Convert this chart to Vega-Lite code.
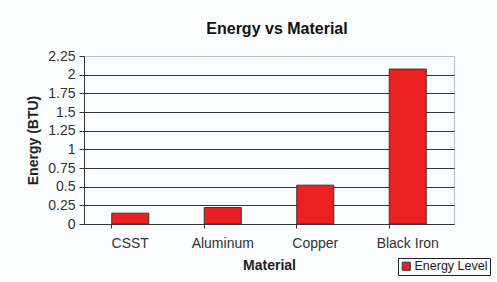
{
  "$schema": "https://vega.github.io/schema/vega-lite/v6.json",
  "width": 370,
  "height": 168,
  "padding": {"left": 26, "top": 21, "right": 5, "bottom": 5},
  "background": "#fbfcfe",
  "title": {
    "text": "Energy vs Material",
    "font": "Liberation Sans",
    "fontSize": 16,
    "fontWeight": "bold",
    "color": "#111111",
    "offset": 12,
    "dx": 8
  },
  "data": {
    "values": [
      {"material": "CSST", "energy": 0.145, "series": "Energy Level"},
      {"material": "Aluminum", "energy": 0.22, "series": "Energy Level"},
      {"material": "Copper", "energy": 0.52, "series": "Energy Level"},
      {"material": "Black Iron", "energy": 2.075, "series": "Energy Level"}
    ]
  },
  "mark": {"type": "bar", "stroke": "#333333", "strokeWidth": 1},
  "encoding": {
    "x": {
      "field": "material",
      "type": "nominal",
      "sort": null,
      "scale": {"paddingInner": 0.6, "paddingOuter": 0.3},
      "axis": {
        "title": "Material",
        "labelAngle": 0,
        "bandPosition": 0,
        "labelFont": "Liberation Sans",
        "labelFontSize": 14,
        "labelColor": "#333333",
        "labelPadding": 8,
        "titleFont": "Liberation Sans",
        "titleFontSize": 14,
        "titleFontWeight": "bold",
        "titleColor": "#222222",
        "titlePadding": 8,
        "domainColor": "#333333",
        "tickColor": "#333333",
        "tickSize": 4,
        "grid": false
      }
    },
    "y": {
      "field": "energy",
      "type": "quantitative",
      "scale": {"domain": [0, 2.25], "nice": false},
      "axis": {
        "title": "Energy  (BTU)",
        "values": [0, 0.25, 0.5, 0.75, 1, 1.25, 1.5, 1.75, 2, 2.25],
        "format": ".2~f",
        "labelFont": "Liberation Sans",
        "labelFontSize": 14,
        "labelColor": "#333333",
        "labelPadding": 4,
        "titleFont": "Liberation Sans",
        "titleFontSize": 14,
        "titleFontWeight": "bold",
        "titleColor": "#222222",
        "titlePadding": 7,
        "domainColor": "#333333",
        "tickColor": "#333333",
        "tickSize": 5,
        "grid": true,
        "gridColor": {"condition": {"test": "datum.value == 2.25", "value": "#b4c0cc"}, "value": "#333333"},
        "gridOpacity": 1,
        "gridWidth": 1
      }
    },
    "color": {
      "field": "series",
      "type": "nominal",
      "scale": {"range": ["#ec1f22"]},
      "legend": {
        "title": null,
        "orient": "none",
        "legendX": 314,
        "legendY": 202,
        "symbolType": "square",
        "symbolSize": 64,
        "symbolStrokeColor": "#333333",
        "symbolStrokeWidth": 1,
        "labelFont": "Liberation Sans",
        "labelFontSize": 12.5,
        "labelColor": "#222222",
        "labelOffset": 2,
        "strokeColor": "#222222",
        "padding": 2,
        "fillColor": "#fbfcfe"
      }
    }
  },
  "config": {
    "view": {"stroke": "#b4c0cc", "strokeWidth": 1}
  }
}
